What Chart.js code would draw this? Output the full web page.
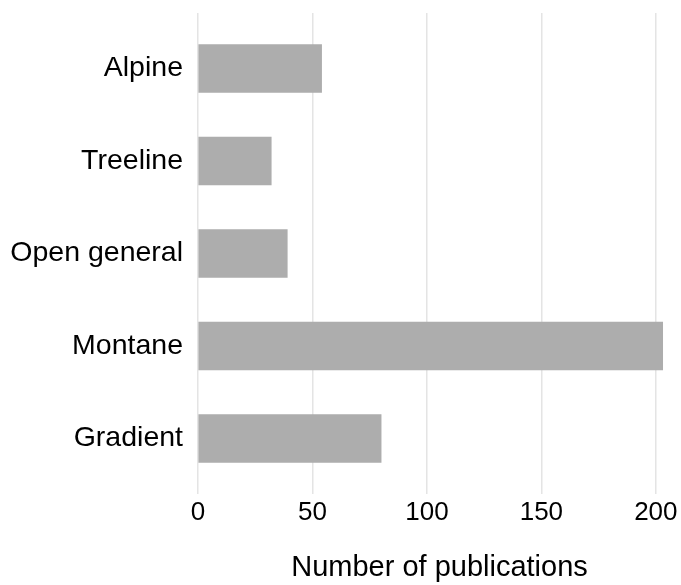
<!DOCTYPE html>
<html>
<head>
<meta charset="utf-8">
<script src="https://cdn.jsdelivr.net/npm/chart.js@4/dist/chart.umd.min.js"></script>
<style>
  html, body { margin: 0; padding: 0; background: #fff; }
  #wrap { width: 681px; height: 585px; }
</style>
</head>
<body>
<div id="wrap"><canvas id="chart"></canvas></div>
<script>
const habitats = ['Alpine', 'Treeline', 'Open general', 'Montane', 'Gradient']
const publications = [54, 32, 39, 203, 80]
const xTicks = [0, 50, 100, 150, 200]

const font = 'Liberation Sans, Arial, Helvetica, sans-serif'

new Chart(document.getElementById('chart'), {
  type: 'bar',
  data: {
    datasets: [
      {
        label: 'Number of publications',
        data: publications.map((v, i) => ({ x: v, y: i })),
        backgroundColor: '#adadad',
        borderWidth: 0,
        barThickness: 48,
      },
    ],
  },
  options: {
    indexAxis: 'y',
    responsive: true,
    maintainAspectRatio: false,
    animation: false,
    layout: { padding: { top: 13, left: 10, right: 0, bottom: 0 } },
    plugins: {
      legend: { display: false },
      tooltip: { enabled: false },
    },
    scales: {
      y: {
        type: 'linear',
        reverse: true,
        offset: false,
        min: -0.6,
        max: 4.6,
        afterBuildTicks: (scale) => {
          scale.ticks = habitats.map((_, i) => ({ value: i }))
        },
        afterFit: (scale) => {
          scale.width = 188
          scale.paddingTop = 0
          scale.paddingBottom = 0
        },
        grid: { display: false, drawTicks: false, offset: false },
        border: { display: false },
        ticks: {
          padding: 15,
          color: '#000',
          font: { family: font, size: 28.5 },
          callback: (v) => habitats[v],
        },
      },
      x: {
        type: 'linear',
        min: 0,
        max: 211,
        afterBuildTicks: (scale) => {
          scale.ticks = xTicks.map((v) => ({ value: v }))
        },
        grid: { color: '#e4e4e4', lineWidth: 1.5, drawTicks: false },
        border: { display: false },
        ticks: {
          padding: 3,
          color: '#000',
          font: { family: font, size: 26 },
        },
        title: {
          display: true,
          text: 'Number of publications',
          color: '#000',
          font: { family: font, size: 29 },
          padding: { top: 19, bottom: 0 },
        },
      },
    },
  },
})
</script>
</body>
</html>
